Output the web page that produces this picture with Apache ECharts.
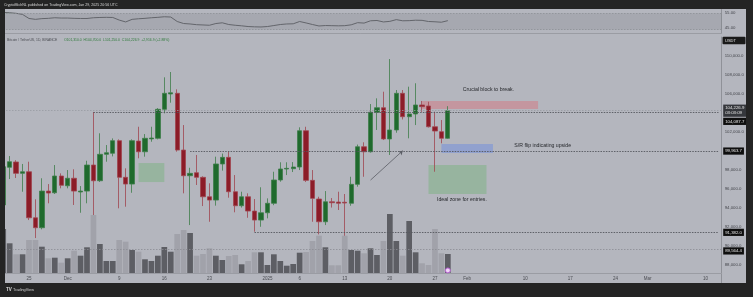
<!DOCTYPE html>
<html><head><meta charset="utf-8">
<script src="https://cdn.jsdelivr.net/npm/echarts/dist/echarts.min.js"></script>
<style>html,body{margin:0;padding:0;background:#242424;}#c{width:753px;height:297px;}</style>
</head><body><div id="c"></div>
<script>
// ---------- data ----------
const firstDay = [2024, 10, 21];   // Nov 21 2024 (UTC)
const dayCount = 112;              // through Mar 12 2025
const categories = [];
for (let i = 0; i < dayCount; i++) {
  categories.push(new Date(Date.UTC(firstDay[0], firstDay[1], firstDay[2] + i)).toISOString().slice(0, 10));
}
// daily candles Nov 21 2024 .. Jan 29 2025
const candleOpen  = [94270,98250,98810,97610,97780,92920,91870,95740,95560,97330,96300,97090,95640,95740,98490,96830,99620,99730,101060,97190,96480,101020,99890,101250,101310,104370,105990,106060,100070,97360,97680,97190,95140,94790,98600,99300,95670,94190,95140,93630,92680,93450,94450,96910,98070,98100,98280,102110,96870,94900,92500,94610,94580,94560,94450,96450,100420,99890,104060,104540,101240,102190,106060,103590,103880,104830,104720,102530,102010,101310];
const candleHigh  = [98900,99440,99000,98600,98840,94870,97090,96480,98490,97610,97960,98040,96270,98940,104090,101840,100600,101300,101200,98140,101200,102530,101760,102530,104500,107750,108310,106480,102710,98200,99550,97300,96560,99370,99700,99890,97430,95670,95500,94900,96140,94970,97780,98780,98780,98800,102470,102530,97960,95140,95740,95000,95670,95430,97250,100650,100890,104930,105530,106230,109680,106410,106410,106760,107120,105250,105170,104120,103240,104700];
const candleLow   = [94100,97010,97120,95670,92680,90780,91700,94450,95430,96030,96030,94270,93450,94450,90460,96700,98840,99400,93920,94090,95560,99200,99370,100950,101200,103950,105070,99900,95500,92150,96380,94160,92500,94200,97900,95040,93500,94000,92920,91450,91970,92860,94250,96730,97430,97750,97960,96700,92500,91170,92150,94000,93740,89730,94190,96200,97250,99800,102190,101130,99550,101900,103300,101310,102710,104100,102450,97780,100780,101250];
const candleClose = [98310,98840,97610,97780,92920,91870,95740,95530,97330,96350,97090,95740,95740,98490,96830,99620,99790,101060,97190,96480,101060,99890,101310,101340,104370,106060,106120,100070,97360,97610,97190,95140,94790,98600,99300,95670,94190,95140,93630,92680,93450,94450,96910,98070,98140,98280,102110,96870,94970,92500,94610,94510,94450,94480,96450,100420,99890,104060,104540,101240,102190,106060,103590,103880,104830,104650,102530,102080,101310,104226.9];
const volumes     = [44000,29700,18700,18700,33000,33000,26300,14700,15300,10300,14700,22300,17300,25700,58000,29000,12000,12000,33000,31300,23000,21300,13700,12000,17300,26000,21300,39000,43000,40000,17300,19000,24700,17300,13000,17000,18000,8700,12000,20700,20700,8000,18700,12000,7300,9000,20300,21000,32000,37300,25700,7700,7700,37300,23000,22300,19700,24700,18000,32000,59000,32000,17300,52000,20700,9700,8000,44000,19700,19000];
// oscillator pane (top)
const oscValues   = [55.6,55.4,55.0,54.2,51.4,50.8,51.3,51.5,51.9,51.7,51.7,51.5,51.4,51.4,51.9,52.1,52.2,52.1,50.3,49.0,50.8,51.2,51.5,51.9,52.2,52.6,52.4,49.3,47.9,47.6,47.1,46.9,46.7,47.9,48.4,47.2,46.7,46.3,45.8,45.6,45.5,45.8,46.5,47.2,47.6,47.7,49.3,48.3,47.2,46.2,46.5,46.4,46.3,46.4,47.0,48.5,48.2,49.8,50.0,49.0,49.4,50.6,49.8,49.9,50.2,50.1,49.3,49.1,48.8,49.9];
const oscLevels   = [55, 45];
const oscBand     = [55, 43.6];
// x tick labels
const xTickDates  = ['2024-11-25','2024-12-01','2024-12-09','2024-12-16','2024-12-23','2025-01-01','2025-01-06','2025-01-13','2025-01-20','2025-01-27','2025-02-01','2025-02-10','2025-02-17','2025-02-24','2025-03-01','2025-03-10'];
const xTickLabels = ['25','Dec','9','16','23','2025','6','13','20','27','Feb','10','17','24','Mar','10'];
// price lines
const lastPrice = 104226.9, countdown = '03:03:09';
const rayLevels = [ // [start date, price]
  ['2024-12-05', 104087.7],
  ['2024-12-20', 99963.7],
  ['2024-12-30', 91382.0]
];
const fullLevels = [89564.4];
// where the right-axis boxes sit (TradingView pushes colliding boxes apart)
const boxSpots = [103100, 99963.7, 91382.0, 89420];
// annotation zones: [fromDate, toDate, top, bottom, kind]
const zones = [
  ['2025-01-25','2025-02-12',105250,104400,'red'],
  ['2025-01-28','2025-02-05',100700,99760,'blue'],
  ['2025-01-26','2025-02-04',98490,95430,'green'],
  ['2024-12-12','2024-12-16',98700,96690,'green']
];
const notes = [ // [date, price, text]
  ['2025-01-31',106500,'Crucial block to break.'],
  ['2025-02-08',100500,'S/R flip indicating upside'],
  ['2025-01-27',94800,'Ideal zone for entries.']
];
const arrowFrom = ['2025-01-17', 96900], arrowTo = ['2025-01-22', 100000];

// ---------- chart ----------
const fmtP = v => v.toLocaleString('en-US', {minimumFractionDigits: 1, maximumFractionDigits: 1});
const UP = '#1f6a2d', DOWN = '#8c1c28';
const candleData = candleOpen.map((o, i) => [o, candleClose[i], candleLow[i], candleHigh[i]]);
const volData = volumes.map((v, i) => ({value: v, itemStyle: {color: candleClose[i] >= candleOpen[i] ? '#5d5e64' : '#a1a2aa'}}));
const zoneColor = {red: 'rgba(242,54,69,0.25)', blue: 'rgba(41,98,255,0.25)', green: 'rgba(76,175,80,0.28)'};
const lastCat = categories[categories.length - 1];
const FS = 4.3;
const NOLINE = {color: 'rgba(0,0,0,0)', width: 0.01};
const boxLabel = (txt, bg) => ({show: true, position: 'end', distance: 1.5, formatter: txt, backgroundColor: bg || '#0e0e0e', color: '#e6e6e6', fontSize: FS, padding: [1.2, 2, 1, 2], lineHeight: 5});
const OFF = {show: false};

const markLines = [];
markLines.push({yAxis: lastPrice, lineStyle: {color: '#979aa1', type: [1.5, 1.5], width: 0.8}, label: OFF});
rayLevels.forEach(r => markLines.push([{coord: [r[0], r[1]], lineStyle: {color: '#55575e', type: [1.5, 1.2], width: 0.9}, label: OFF}, {coord: [lastCat, r[1]]}]));
fullLevels.forEach(v => markLines.push({yAxis: v, lineStyle: {color: '#8a8c93', type: [1.5, 1.5], width: 0.8}, label: OFF}));
// right-axis label boxes
markLines.push({yAxis: lastPrice, lineStyle: NOLINE, label: boxLabel(fmtP(lastPrice) + '\n' + countdown, '#35373c')});
[rayLevels[0][1], rayLevels[1][1], rayLevels[2][1], fullLevels[0]].forEach((p, k) =>
  markLines.push({yAxis: boxSpots[k], lineStyle: NOLINE, label: boxLabel(fmtP(p))}));
// arrow
markLines.push([{coord: arrowFrom, symbol: 'none', lineStyle: {color: '#5a5d64', width: 0.8, type: 'solid'}, label: OFF}, {coord: arrowTo, symbol: 'arrow', symbolSize: 4}]);

const chart = echarts.init(document.getElementById('c'), null, {renderer: 'canvas'});
chart.setOption({
  backgroundColor: '#b4b6be',
  animation: false,
  textStyle: {fontFamily: 'Liberation Sans, Arial, sans-serif'},
  grid: [
    {left: 0, width: 721.7, top: 37.06, height: 246.26},
    {left: 0, width: 721.7, top: 203, height: 70},
    {left: 0, width: 721.7, top: 9.5, height: 24}
  ],
  xAxis: [
    {type: 'category', gridIndex: 0, data: categories, axisLine: {show: false}, axisTick: {show: false}, axisLabel: {show: false}, splitLine: {show: false}},
    {type: 'category', gridIndex: 1, data: categories, axisLine: {show: true, lineStyle: {color: '#9a9ca3', width: 1}}, axisTick: {show: false}, splitLine: {show: false},
      axisLabel: {show: true, interval: (i, v) => xTickDates.includes(v), formatter: v => xTickLabels[xTickDates.indexOf(v)], fontSize: 4.5, color: '#4a4c52', margin: 3}},
    {type: 'category', gridIndex: 2, data: categories, axisLine: {show: true, lineStyle: {color: '#9a9ca3', width: 1}}, axisTick: {show: false}, axisLabel: {show: false}, splitLine: {show: false}}
  ],
  yAxis: [
    {type: 'value', gridIndex: 0, position: 'right', min: 86000, max: 112000, interval: 2000, splitLine: {show: false}, axisTick: {show: false},
      axisLine: {show: true, lineStyle: {color: '#8f9198', width: 1}},
      axisLabel: {fontSize: FS, color: '#44464c', margin: 3, formatter: v => (v < 88000 || v > 110000) ? '' : fmtP(v)}},
    {type: 'value', gridIndex: 1, min: 0, max: 70000, show: false},
    {type: 'value', gridIndex: 2, position: 'right', min: 40.97, max: 57.64, splitLine: {show: false}, axisTick: {show: false}, axisLabel: {show: false},
      axisLine: {show: true, lineStyle: {color: '#8f9198', width: 1}}}
  ],
  series: [
    {type: 'candlestick', xAxisIndex: 0, yAxisIndex: 0, data: candleData, barWidth: 4.8, z: 2,
      itemStyle: {color: UP, color0: DOWN, borderColor: '#3f7d4a', borderColor0: '#a0454f', borderWidth: 0.8}},
    {type: 'bar', xAxisIndex: 1, yAxisIndex: 1, data: volData, barWidth: 5.7, z: 3,
      markPoint: {silent: true, data: [{coord: [categories[candleOpen.length - 1], 2600], symbol: 'circle', symbolSize: 5, itemStyle: {color: '#f0d4f7', borderColor: '#b15ccd', borderWidth: 1}, label: {show: false}}]}},
    {type: 'line', xAxisIndex: 0, yAxisIndex: 0, data: [], z: 5, silent: true,
      markLine: {silent: true, symbol: ['none', 'none'], label: OFF, data: markLines},
      markArea: {silent: true, data: zones.map(z => [{coord: [z[0], z[2]], itemStyle: {color: zoneColor[z[4]]}}, {coord: [z[1], z[3]]}])},
      markPoint: {silent: true, data: notes.map(n => ({coord: [n[0], n[1]], symbol: 'rect', symbolSize: 0.1, itemStyle: {color: 'rgba(0,0,0,0)'},
        label: {show: true, position: 'right', distance: 2, formatter: n[2], fontSize: 5.2, color: '#26282c'}}))}},
    {type: 'line', xAxisIndex: 2, yAxisIndex: 2, data: oscValues.map(v => Math.max(v, oscLevels[0])), symbol: 'none', z: 2, silent: true,
      lineStyle: {width: 0}, areaStyle: {origin: oscLevels[0], color: 'rgba(76,175,80,0.45)'}},
    {type: 'line', xAxisIndex: 2, yAxisIndex: 2, data: oscValues, symbol: 'none', z: 3, silent: true,
      lineStyle: {width: 1, color: '#63656b'},
      markArea: {silent: true, itemStyle: {color: 'rgba(110,113,122,0.2)'}, data: [[{yAxis: oscBand[0]}, {yAxis: oscBand[1]}]]},
      markLine: {silent: true, symbol: ['none', 'none'], data: oscBand.map(v => ({yAxis: v, lineStyle: {color: '#8d9096', type: [1.5, 1.5], width: 0.8}, label: OFF}))
        .concat(oscLevels.map(v => ({yAxis: v, lineStyle: NOLINE, label: {show: true, position: 'end', distance: 3, formatter: v.toFixed(2), fontSize: FS, color: '#44464c'}})))}}
  ],
  graphic: [
    {type: 'rect', z: 100, shape: {x: 0, y: 0, width: 753, height: 9}, style: {fill: '#242424'}},
    {type: 'rect', z: 100, shape: {x: 0, y: 0, width: 5, height: 297}, style: {fill: '#242424'}},
    {type: 'rect', z: 100, shape: {x: 746, y: 0, width: 7, height: 297}, style: {fill: '#242424'}},
    {type: 'rect', z: 100, shape: {x: 0, y: 283, width: 753, height: 14}, style: {fill: '#242424'}},
    {type: 'text', z: 101, x: 4, y: 5, style: {text: 'CryptoMichNL published on TradingView.com, Jan 29, 2025 20:56 UTC', fill: '#d9d9d9', fontSize: 3.6, verticalAlign: 'middle', fontFamily: 'Liberation Sans, Arial'}},
    {type: 'text', z: 101, x: 6, y: 290, style: {text: 'TV', fill: '#e0e0e0', fontSize: 4.5, fontWeight: 'bold', verticalAlign: 'middle', fontFamily: 'Liberation Sans, Arial'}},
    {type: 'text', z: 101, x: 13, y: 290, style: {text: 'TradingView', fill: '#d0d0d0', fontSize: 3.8, verticalAlign: 'middle', fontFamily: 'Liberation Sans, Arial'}},
    {type: 'text', z: 101, x: 7, y: 40, style: {
      text: '{a|Bitcoin / TetherUS, 1D, BINANCE}  {g|O' + fmtP(candleOpen[69]) + '  H' + fmtP(candleHigh[69]) + '  L' + fmtP(candleLow[69]) + '  C' + fmtP(candleClose[69]) + '  +' + fmtP(candleClose[69] - candleClose[68]) + ' (+' + ((candleClose[69] / candleClose[68] - 1) * 100).toFixed(2) + '%)}',
      rich: {a: {fill: '#4a4c52', fontSize: 3.4}, g: {fill: '#2e7a3a', fontSize: 3.4}}, verticalAlign: 'middle', fontFamily: 'Liberation Sans, Arial'}},
    {type: 'rect', z: 101, shape: {x: 722.5, y: 36.7, width: 23, height: 7.6, r: 1}, style: {fill: '#1a1a1a'}},
    {type: 'text', z: 102, x: 725, y: 40.6, style: {text: 'USDT', fill: '#e0e0e0', fontSize: 4, verticalAlign: 'middle', fontFamily: 'Liberation Sans, Arial'}}
  ]
});
</script></body></html>
